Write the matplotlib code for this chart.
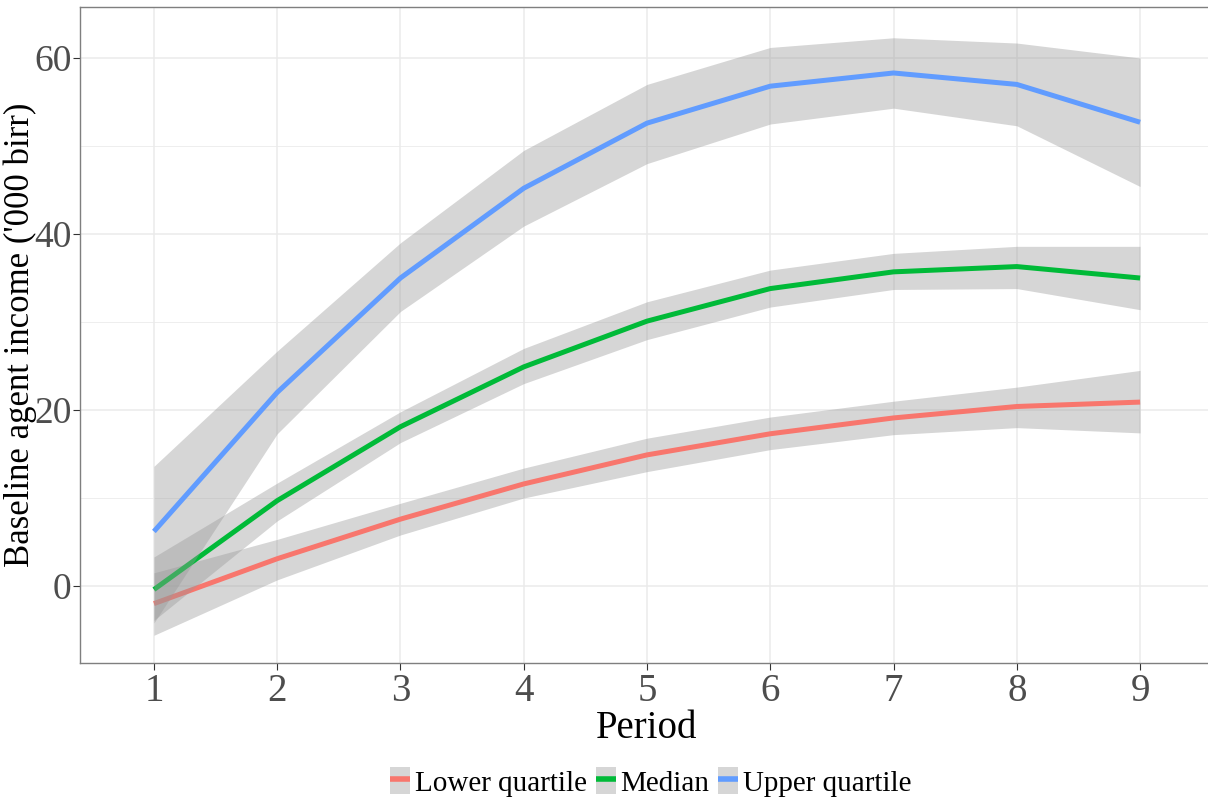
import numpy as np
import matplotlib.pyplot as plt
from matplotlib.patches import Patch
from matplotlib.lines import Line2D
from matplotlib.ticker import MultipleLocator

# ── Datos: ingreso base por periodo (miles de birr) ─────────────────────────
periodos = [1, 2, 3, 4, 5, 6, 7, 8, 9]

inf_media = [-2.0, 3.1, 7.6, 11.6, 14.9, 17.3, 19.1, 20.4, 20.9]
inf_bajo  = [-5.6, 0.7, 5.8, 10.0, 13.0, 15.5, 17.2, 18.0, 17.4]
inf_alto  = [1.5, 5.3, 9.4, 13.4, 16.8, 19.2, 21.0, 22.6, 24.5]

med_media = [-0.4, 9.7, 18.1, 24.9, 30.1, 33.8, 35.7, 36.3, 35.0]
med_bajo  = [-3.9, 7.4, 16.3, 23.0, 28.0, 31.7, 33.7, 33.8, 31.4]
med_alto  = [3.3, 11.7, 19.8, 27.0, 32.3, 35.9, 37.8, 38.6, 38.6]

sup_media = [6.2, 22.0, 35.0, 45.2, 52.6, 56.8, 58.3, 57.0, 52.7]
sup_bajo  = [-4.2, 17.3, 31.2, 40.9, 48.0, 52.5, 54.3, 52.3, 45.4]
sup_alto  = [13.6, 26.7, 39.0, 49.5, 57.0, 61.2, 62.3, 61.7, 60.0]

etiquetas = ["Lower quartile", "Median", "Upper quartile"]
colores   = ["#F8766D", "#00BA38", "#619CFF"]
series = [
    (inf_media, inf_bajo, inf_alto),
    (med_media, med_bajo, med_alto),
    (sup_media, sup_bajo, sup_alto),
]

FUENTE = ["Liberation Serif", "DejaVu Serif"]
GRIS_BANDA = "#999999"

# ── Figura ──────────────────────────────────────────────────────────────────
fig = plt.figure(figsize=(12.08, 8.02), dpi=100)
ax = fig.add_axes([0.0662, 0.1733, 0.9388, 0.818])

x = np.array(periodos)
z = 3
for (media, bajo, alto), color in zip(series, colores):
    ax.fill_between(x, bajo, alto, color=GRIS_BANDA, alpha=0.4, lw=0, zorder=z)
    ax.plot(x, media, color=color, lw=3.6, solid_capstyle="butt", zorder=z + 1)
    z += 2

ax.set_xlim(0.4, 9.6)
ax.set_ylim(-8.75, 65.8)
ax.set_xticks(periodos)
ax.yaxis.set_major_locator(MultipleLocator(20))
ax.yaxis.set_minor_locator(MultipleLocator(10))

ax.grid(which="major", color="#EBEBEB", lw=1.1, zorder=0)
ax.grid(which="minor", axis="y", color="#EBEBEB", lw=0.6, zorder=0)
ax.set_axisbelow(True)

for lado in ax.spines.values():
    lado.set_color("#7F7F7F")
    lado.set_linewidth(1.0)

ax.tick_params(which="major", length=5, width=0.8, color="#333333",
               labelcolor="#4D4D4D", labelsize=27, pad=1)
ax.tick_params(axis="x", labelsize=28, pad=2)
ax.tick_params(which="minor", length=0)
for lab in ax.get_xticklabels() + ax.get_yticklabels():
    lab.set_family(FUENTE)

ax.set_xlabel("Period", family=FUENTE, fontsize=28, labelpad=0)
ax.set_ylabel("Baseline agent income ('000 birr)", family=FUENTE, fontsize=25)
# el rótulo se ancla por su lado derecho
ax.yaxis.set_label_coords((37 - 80) / (0.9388 * 1208), 0.5)

# ── Leyenda inferior ────────────────────────────────────────────────────────
manijas = [
    (Patch(facecolor=GRIS_BANDA, alpha=0.4, edgecolor="none"),
     Line2D([], [], color=c, lw=4, solid_capstyle="butt"))
    for c in colores
]
fig.legend(manijas, etiquetas, loc="center", bbox_to_anchor=(651 / 1208, 1 - 782 / 802),
           ncol=3, frameon=False, prop={"family": FUENTE, "size": 21},
           handlelength=0.68, handleheight=1.05, handletextpad=0.17,
           columnspacing=0.3, borderpad=0)

fig.savefig("out.png", dpi=100)
